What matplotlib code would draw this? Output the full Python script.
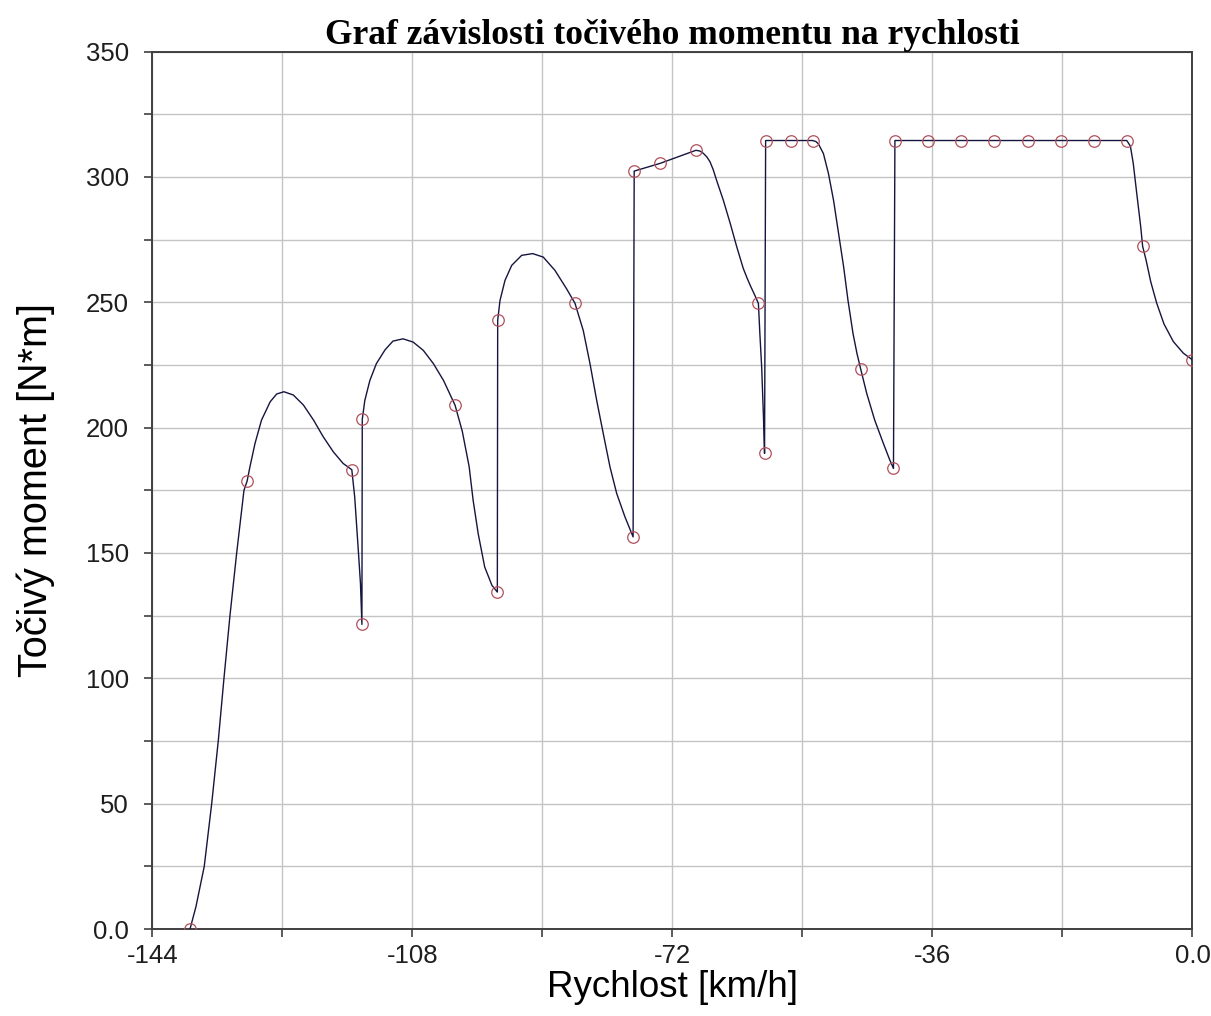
import matplotlib
matplotlib.use("Agg")
import matplotlib.pyplot as plt
from matplotlib.ticker import MultipleLocator, FixedLocator, FixedFormatter

# measured points (markers)
speed_pts = [-138.8, -130.9, -116.4, -115.0, -114.95, -102.1, -96.25, -96.2,
             -85.5, -77.45, -77.3, -73.7, -68.75, -60.1, -59.25, -59.1,
             -55.6, -52.6, -45.95, -41.4, -41.2, -36.6, -32.05, -27.45,
             -22.8, -18.2, -13.7, -9.1, -6.9, 0.0]
torque_pts = [0.0, 178.6, 183.2, 121.5, 203.3, 208.9, 134.4, 242.8,
              249.6, 156.4, 302.3, 305.4, 310.6, 249.5, 189.7, 314.5,
              314.5, 314.5, 223.5, 183.7, 314.5, 314.5, 314.5, 314.5,
              314.5, 314.5, 314.5, 314.5, 272.3, 227.0]

# torque curve
speed_curve = [-138.8, -137.98, -136.83, -135.8, -134.89, -134.1, -133.27, -132.34,
               -131.33, -130.9, -130.5, -129.8, -128.9, -127.7, -126.8, -125.8,
               -124.5, -123.1, -121.7, -120.35, -118.95, -117.6, -116.4, -116.0,
               -115.5, -115.2, -115.0, -114.95, -114.6, -113.9, -113.0, -111.8,
               -110.7, -109.3, -107.9, -106.5, -105.1, -103.7, -102.1, -101.1,
               -100.15, -99.6, -98.9, -98.0, -97.0, -96.25, -96.2, -95.88,
               -95.19, -94.26, -92.88, -91.36, -89.89, -88.27, -86.65, -85.5,
               -84.35, -83.42, -82.49, -81.58, -80.65, -79.72, -78.58, -77.45,
               -77.3, -73.7, -68.75, -68.2, -67.73, -67.25, -66.8, -66.35,
               -65.9, -64.96, -64.0, -63.1, -62.2, -61.65, -61.2, -60.6,
               -60.1, -59.9, -59.65, -59.4, -59.25,
               -59.1, -55.6, -52.6, -52.15, -51.8, -51.1, -50.4, -49.7, -49.0,
               -48.3, -47.7, -47.0, -46.45, -45.95, -45.1, -44.0, -42.8, -41.9,
               -41.4, -41.2, -9.1, -8.6, -8.2, -7.72, -7.17, -6.9, -6.43, -5.78,
               -4.95, -3.94, -2.65, -1.27, 0.0]
torque_curve = [0.0, 8.9, 25.0, 50.0, 75.0, 100.0, 125.0, 150.0,
                175.0, 178.6, 184.4, 193.7, 203.0, 210.3, 213.4, 214.3,
                213.0, 209.0, 203.0, 196.3, 190.3, 185.7, 183.2, 172.4,
                151.1, 137.8, 121.5, 203.3, 210.8, 218.8, 225.5, 231.0,
                234.5, 235.4, 234.1, 230.8, 225.5, 218.8, 208.9, 198.5,
                184.4, 171.0, 157.7, 144.4, 137.1, 134.4, 242.8, 250.7,
                258.7, 264.7, 268.7, 269.4, 268.0, 262.7, 255.3, 249.6,
                238.7, 225.5, 210.8, 197.6, 184.3, 173.7, 164.4, 156.4,
                302.3, 305.4, 310.6, 310.3, 309.4, 308.0, 306.0, 302.8,
                298.7, 290.7, 281.4, 272.1, 263.5, 259.5, 256.5, 252.8,
                249.5, 237.5, 224.2, 204.3, 189.7,
                314.5, 314.5, 314.5, 314.1, 313.2, 309.3, 301.3, 290.7, 277.4,
                264.1, 250.8, 237.5, 229.5, 223.5, 213.6, 203.0, 193.7, 187.0,
                183.7, 314.5, 314.5, 312.3, 305.4, 293.5, 280.2, 272.3, 266.9, 258.2,
                249.6, 241.3, 234.3, 229.7, 227.0]

x_major = [-144, -108, -72, -36, 0]
x_labels = ["-144", "-108", "-72", "-36", "0.0"]
y_major = [0, 50, 100, 150, 200, 250, 300, 350]
y_labels = ["0.0", "50", "100", "150", "200", "250", "300", "350"]

sans = ["Liberation Sans", "DejaVu Sans"]

fig = plt.figure(figsize=(12.11, 10.16), dpi=100)
ax = fig.add_axes([0.1259, 0.0856, 0.8588, 0.8637])

ax.plot(speed_curve, torque_curve, color="#15153f", lw=1.0, zorder=3)
ax.plot(speed_pts, torque_pts, "o", ms=8.3, mfc="none", mec="#b0505c",
        mew=0.9, zorder=4)

ax.set_xlim(-144, 0)
ax.set_ylim(0, 350)

ax.xaxis.set_major_locator(FixedLocator(x_major))
ax.xaxis.set_major_formatter(FixedFormatter(x_labels))
ax.xaxis.set_minor_locator(MultipleLocator(18))
ax.yaxis.set_major_locator(FixedLocator(y_major))
ax.yaxis.set_major_formatter(FixedFormatter(y_labels))
ax.yaxis.set_minor_locator(MultipleLocator(25))

ax.grid(True, which="both", color="#c4c4c4", lw=1.0, zorder=0)
ax.set_axisbelow(True)

for s in ax.spines.values():
    s.set_color("#404040")
    s.set_linewidth(1.4)

ax.tick_params(which="both", direction="out", length=6, width=1.2, color="#404040")
ax.tick_params(axis="both", which="major", labelsize=18.5, labelcolor="#1e1e1e")
ax.tick_params(axis="x", which="major", pad=5)
ax.tick_params(axis="y", which="major", pad=11)

for lab in ax.get_xticklabels() + ax.get_yticklabels():
    lab.set_family(sans)

ax.set_xlabel("Rychlost [km/h]", fontsize=26.5, family=sans, labelpad=1)
ax.set_ylabel("Točivý moment [N*m]", fontsize=28.5, family=sans, labelpad=22)
ax.set_title("Graf závislosti točivého momentu na rychlosti", fontsize=25.5,
             fontweight="bold", family=["Liberation Serif", "DejaVu Serif"], pad=4)

fig.savefig("out.png", dpi=100, facecolor="white")
